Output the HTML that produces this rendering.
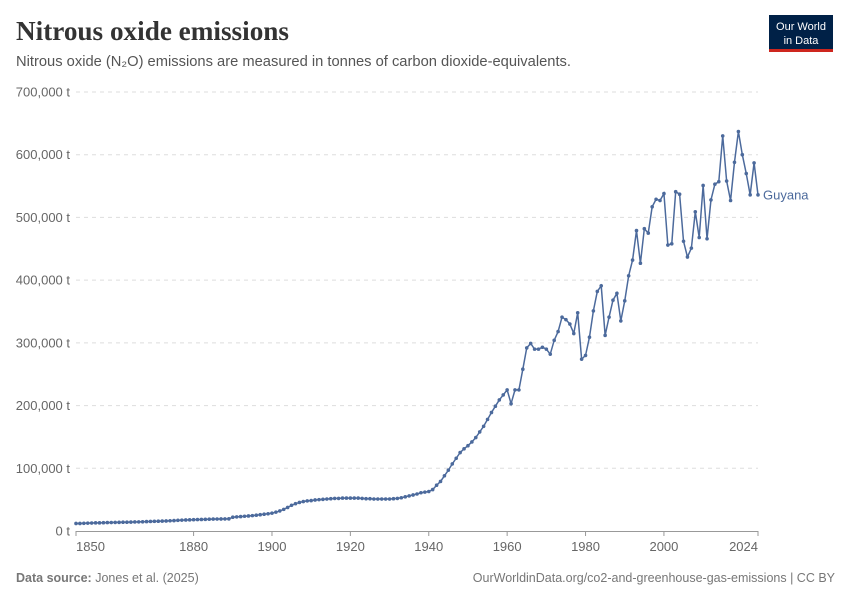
<!DOCTYPE html>
<html><head><meta charset="utf-8"><style>
body{margin:0;background:#fff;}
svg text{font-family:"Liberation Sans",sans-serif;}
</style></head><body>
<svg id="chart" width="850" height="600" viewBox="0 0 850 600" xmlns="http://www.w3.org/2000/svg">
<text x="16" y="40" style="font-family:'Liberation Serif',serif" font-weight="bold" font-size="27" fill="#333" textLength="273" lengthAdjust="spacingAndGlyphs">Nitrous oxide emissions</text>
<text x="16" y="66" font-size="14.5" fill="#555" textLength="555" lengthAdjust="spacingAndGlyphs">Nitrous oxide (N₂O) emissions are measured in tonnes of carbon dioxide-equivalents.</text>
<g>
<rect x="769" y="15" width="64" height="35" fill="#002147"/>
<rect x="769" y="49" width="64" height="3" fill="#ce261e"/>
<text x="801" y="30" font-size="11" fill="#fff" text-anchor="middle">Our World</text>
<text x="801" y="44" font-size="11" fill="#fff" text-anchor="middle">in Data</text>
</g>
<g id="grid"></g>
<g id="yticks"></g>
<g id="xticks"></g>
<g id="series"></g>
<text x="16" y="582" font-size="12.5" fill="#777"><tspan font-weight="bold">Data source:</tspan> Jones et al. (2025)</text>
<text x="835" y="582" font-size="12.5" fill="#777" text-anchor="end">OurWorldinData.org/co2-and-greenhouse-gas-emissions | CC BY</text>
</svg>
<script>
const startYear = 1850;
const values = [
12,12,12.3,12.5,12.7,13,13,13.2,13.4,13.5,
13.7,13.8,14,14,14.2,14.4,14.5,14.7,15,15.2,
15.4,15.6,15.8,16,16.3,16.6,17,17.3,17.6,17.8,
18,18.2,18.4,18.6,18.8,19,19.1,19.2,19.3,19.4,
22,22.5,23,23.5,24,24.5,25.2,26,26.8,27.5,
28.5,30,32,34.5,37.5,41,43.5,45.5,47,48,
48.5,49.5,50,50.5,51,51.5,52,52,52.5,52.5,
52.5,52.5,52.5,52,51.5,51.5,51,51,51,51,
51,51.5,52,53,54.5,56,57.5,59,61,62,
63,66,73,79,88,97,107,116,125,131,
136,142,149,158,167,178,189,199,209,217,
225,203,225,225,258,292,299,290,290,293,
290,282,304,318,341,337,330,315,348,274,
280,309,351,382,391,312,341,368,379,335,
367,407,432,479,427,482,475,517,529,527,
538,456,458,541,537,462,437,451,509,468,
551,466,528,553,557,630,558,527,588,637,
600,570,536,587,536
];
const yTickValues = [0,100000,200000,300000,400000,500000,600000,700000];
const yTickLabels = ["0 t","100,000 t","200,000 t","300,000 t","400,000 t","500,000 t","600,000 t","700,000 t"];
const xTickYears = [1850,1880,1900,1920,1940,1960,1980,2000,2024];
const seriesName = "Guyana";

const NS="http://www.w3.org/2000/svg";
const X0=76,X1=758,Y0=531,Y1=92;
const xs=y=>X0+(y-1850)*(X1-X0)/(2024-1850);
const ys=v=>Y0-(v)*(Y0-Y1)/700000;
function mk(tag,attrs,parent){const e=document.createElementNS(NS,tag);for(const k in attrs)e.setAttribute(k,attrs[k]);parent.appendChild(e);return e;}
const grid=document.getElementById('grid'),yt=document.getElementById('yticks'),xt=document.getElementById('xticks'),ser=document.getElementById('series');
yTickValues.forEach((v,i)=>{
  if(v>0){const l=mk('line',{x1:X0,x2:X1,y1:ys(v),y2:ys(v),stroke:'#ddd','stroke-dasharray':'4,4'},grid);
  
  }
  const t=mk('text',{x:70,y:ys(v)+4.5,'font-size':13,fill:'#666','text-anchor':'end'},yt);
  t.textContent=yTickLabels[i];
  
  
});
const ax=mk('line',{x1:X0,x2:X1,y1:Y0+0.5,y2:Y0+0.5,stroke:'#999'},xt);


xTickYears.forEach((yr,i)=>{
  const x=xs(yr);
  const tk=mk('line',{x1:x,x2:x,y1:Y0,y2:Y0+5,stroke:'#999'},xt);
  
  
  const anchor=i===0?'start':(i===xTickYears.length-1?'end':'middle');
  const t=mk('text',{x:x,y:551,'font-size':13,fill:'#666','text-anchor':anchor},xt);
  t.textContent=yr;
  
  
});
const pts=values.map((v,i)=>[xs(startYear+i),ys(v*1000)]);
const path=mk('polyline',{points:pts.map(p=>p[0].toFixed(2)+','+p[1].toFixed(2)).join(' '),fill:'none',stroke:'#4c6a9c','stroke-width':1.5},ser);


pts.forEach(p=>{
  const c=mk('circle',{cx:p[0],cy:p[1],r:1.8,fill:'#4c6a9c'},ser);
  
  
});
const last=pts[pts.length-1];
const lab=mk('text',{x:last[0]+5,y:last[1]+4.5,'font-size':13,fill:'#4c6a9c'},ser);
lab.textContent=seriesName;


</script>
</body></html>
